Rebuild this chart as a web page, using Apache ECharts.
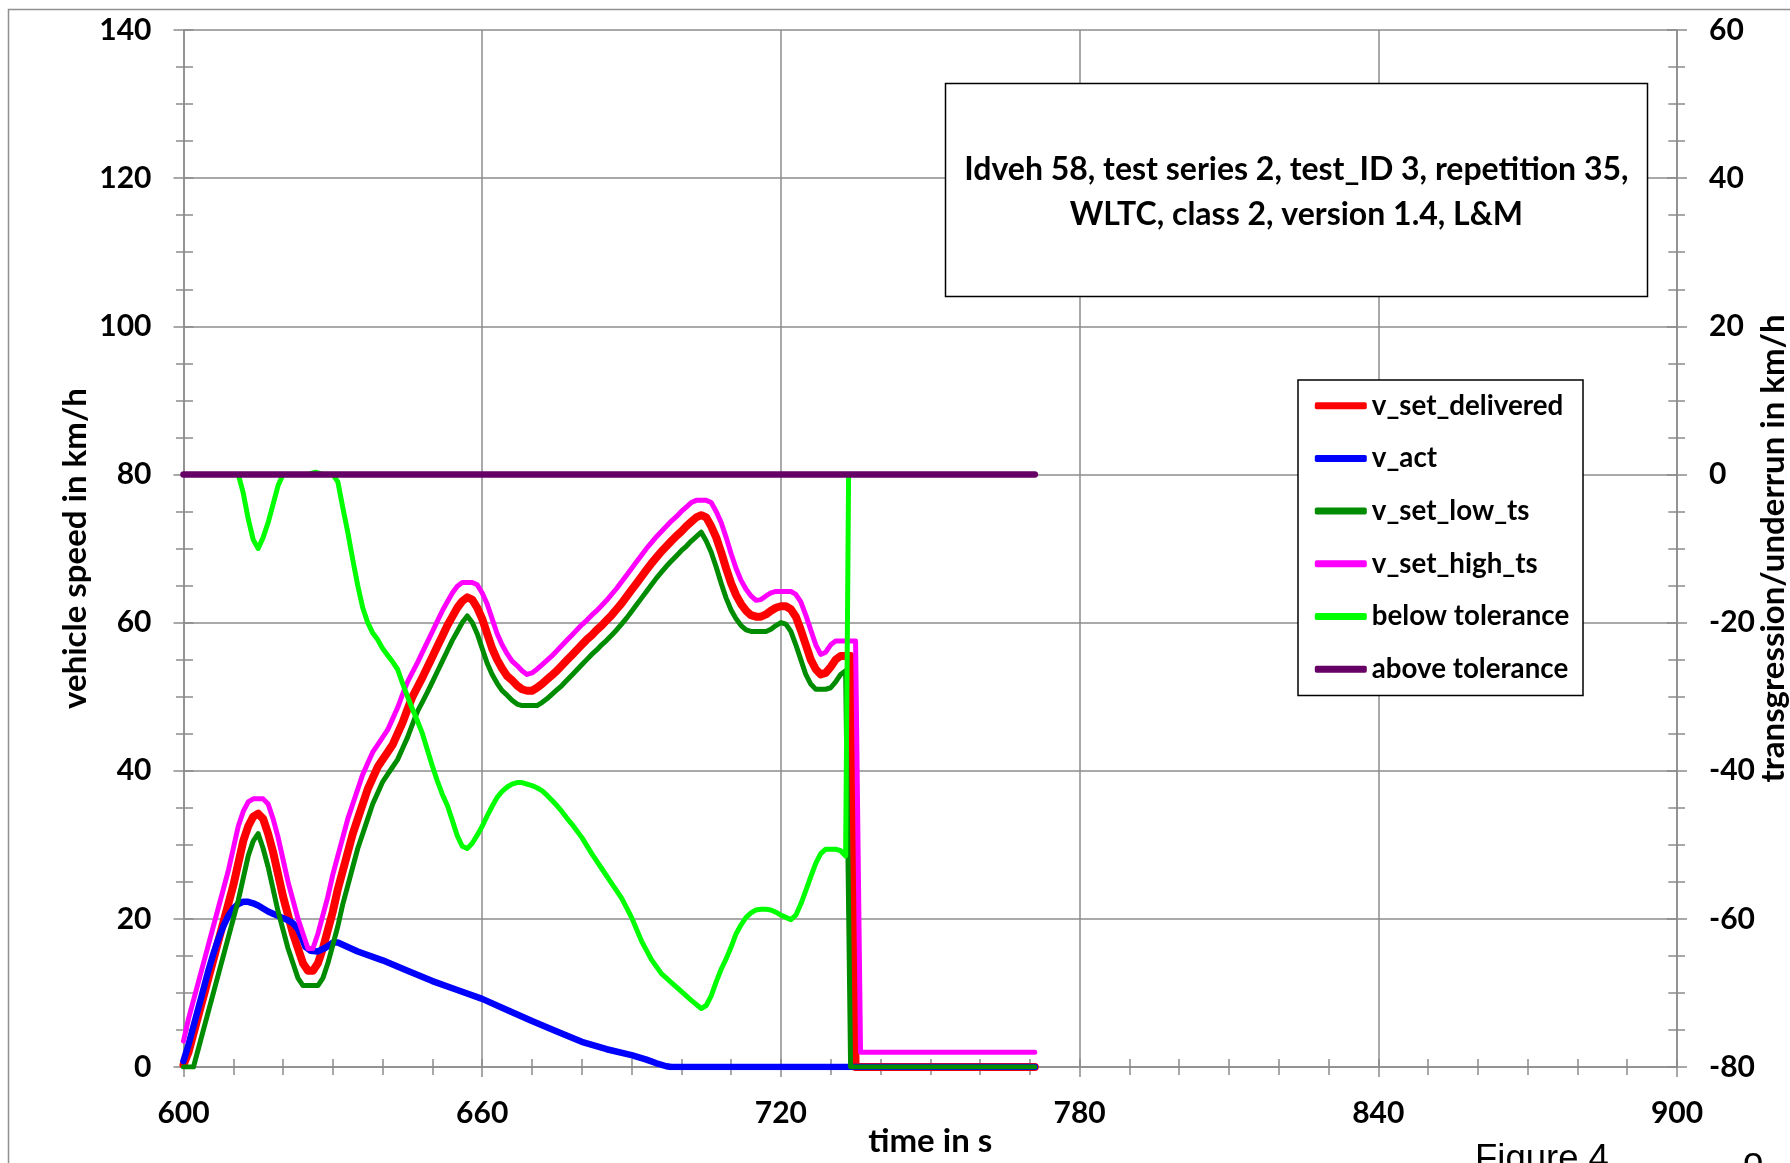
<!DOCTYPE html>
<html><head><meta charset="utf-8">
<script src="https://cdn.jsdelivr.net/npm/echarts@6/dist/echarts.min.js"></script>
<style>html,body{margin:0;padding:0;background:#fff}#c{width:1790px;height:1163px}</style>
</head><body><div id="c"></div><script>
// ---------- data (time in s, value) ----------
const seriesNames = ['v_set_delivered','v_act','v_set_low_ts','v_set_high_ts','below tolerance','above tolerance'];
const titleLines = ['Idveh 58, test series 2, test_ID 3, repetition 35,', 'WLTC, class 2, version 1.4, L&M'];
const xTitle = 'time in s';
const yLeftTitle = 'vehicle speed in km/h';
const yRightTitle = 'transgression/underrun in km/h';

const vSetDelivered = [[600,0.3],[601,2],[602,4.5],[603,7],[604,9.5],[605,12],[606,14.5],[607,17],[608,19.5],[609,22],[610,24.5],[611,27.5],[612,30.5],[613,32.5],[614,33.8],[615,34.2],[616,33.5],[617,31.5],[618,29],[619,26],[620,23],[621,20.5],[622,18],[623,16],[624,14],[625,13],[626,13],[627,14],[628,16],[629,18.5],[630,21],[631,24],[632,26.5],[633,29],[634,31.5],[635,33.5],[636,35.5],[637,37.5],[638,39],[639,40.5],[640,41.5],[641,42.5],[642,43.5],[643,45],[644,46.5],[645,48.3],[646,50],[647,51.3],[648,52.6],[649,54],[650,55.4],[651,56.8],[652,58.2],[653,59.6],[654,60.8],[655,62],[656,62.9],[657,63.4],[658,63.1],[659,62],[660,60.5],[661,58.5],[662,56.5],[663,55],[664,53.8],[665,52.8],[666,52.2],[667,51.5],[668,51],[669,50.8],[670,50.8],[671,51.2],[672,51.7],[673,52.3],[674,52.9],[675,53.5],[676,54.2],[677,54.9],[678,55.6],[679,56.3],[680,57],[681,57.7],[682,58.3],[683,59],[684,59.6],[685,60.3],[686,61],[687,61.8],[688,62.6],[689,63.5],[690,64.4],[691,65.3],[692,66.2],[693,67.1],[694,68],[695,68.8],[696,69.6],[697,70.3],[698,71],[699,71.7],[700,72.3],[701,73],[702,73.6],[703,74.2],[704,74.5],[705,74.2],[706,73],[707,71.5],[708,69.5],[709,67.3],[710,65.3],[711,63.7],[712,62.5],[713,61.6],[714,61],[715,60.8],[716,60.8],[717,61.1],[718,61.6],[719,62],[720,62.2],[721,62.2],[722,61.8],[723,60.8],[724,59],[725,57],[726,55],[727,53.7],[728,53],[729,53.2],[730,54],[731,55],[732,55.5],[733,55.5],[734,55.5],[735,0],[771,0]];

const vAct = [[600,0.8],[601,3],[602,5.5],[603,8],[604,10.5],[605,13],[606,15.3],[607,17.3],[608,19],[609,20.4],[610,21.4],[611,22],[612,22.3],[613,22.3],[614,22.1],[615,21.8],[616,21.4],[617,21],[618,20.7],[619,20.4],[620,20.1],[621,19.8],[622,19.4],[623,18.6],[623.8,17.4],[624.5,16.2],[625.5,15.7],[627,15.6],[628.5,16.1],[630,16.8],[631,16.8],[635,15.6],[640,14.4],[645,13],[650,11.6],[655,10.4],[660,9.2],[665,7.7],[670,6.2],[675,4.8],[680,3.4],[685,2.4],[690,1.6],[693,1],[695,0.5],[697,0.1],[698,0],[771,0]];

const vSetLowTs = [[600,0],[601,0],[602,0],[603,2.5],[604,5],[605,7.5],[606,10],[607,12.5],[608,15],[609,17.5],[610,20],[611,22.5],[612,25.5],[613,28.5],[614,30.5],[615,31.5],[616,29.5],[617,27],[618,24],[619,21],[620,18.5],[621,16],[622,14],[623,12],[624,11],[625,11],[626,11],[627,11],[628,12],[629,14],[630,16.5],[631,19],[632,22],[633,24.5],[634,27],[635,29.5],[636,31.5],[637,33.5],[638,35.5],[639,37],[640,38.5],[641,39.5],[642,40.5],[643,41.5],[644,43],[645,44.5],[646,46.3],[647,48],[648,49.3],[649,50.6],[650,52],[651,53.4],[652,54.8],[653,56.2],[654,57.6],[655,58.8],[656,60],[657,60.9],[658,60],[659,58.5],[660,56.5],[661,54.5],[662,53],[663,51.8],[664,50.8],[665,50.2],[666,49.5],[667,49],[668,48.8],[669,48.8],[670,48.8],[671,48.8],[672,49.2],[673,49.7],[674,50.3],[675,50.9],[676,51.5],[677,52.2],[678,52.9],[679,53.6],[680,54.3],[681,55],[682,55.7],[683,56.3],[684,57],[685,57.6],[686,58.3],[687,59],[688,59.8],[689,60.6],[690,61.5],[691,62.4],[692,63.3],[693,64.2],[694,65.1],[695,66],[696,66.8],[697,67.6],[698,68.3],[699,69],[700,69.7],[701,70.3],[702,71],[703,71.6],[704,72.2],[705,71],[706,69.5],[707,67.5],[708,65.3],[709,63.3],[710,61.7],[711,60.5],[712,59.6],[713,59],[714,58.8],[715,58.8],[716,58.8],[717,58.8],[718,59.1],[719,59.6],[720,60],[721,59.8],[722,58.8],[723,57],[724,55],[725,53],[726,51.7],[727,51],[728,51],[729,51],[730,51.2],[731,52],[732,53],[733,53.5],[734,0],[771,0]];

const vSetHighTs = [[600,3.5],[601,6.5],[602,9],[603,11.5],[604,14],[605,16.5],[606,19],[607,21.5],[608,24],[609,26.5],[610,29.5],[611,32.5],[612,34.5],[613,35.8],[614,36.2],[615,36.2],[616,36.2],[617,35.5],[618,33.5],[619,31],[620,28],[621,25],[622,22.5],[623,20],[624,18],[625,16],[626,16],[627,18],[628,20.5],[629,23],[630,26],[631,28.5],[632,31],[633,33.5],[634,35.5],[635,37.5],[636,39.5],[637,41],[638,42.5],[639,43.5],[640,44.5],[641,45.5],[642,47],[643,48.5],[644,50.3],[645,52],[646,53.3],[647,54.6],[648,56],[649,57.4],[650,58.8],[651,60.2],[652,61.6],[653,62.8],[654,64],[655,64.9],[656,65.4],[657,65.4],[658,65.4],[659,65.1],[660,64],[661,62.5],[662,60.5],[663,58.5],[664,57],[665,55.8],[666,54.8],[667,54.2],[668,53.5],[669,53],[670,53.2],[671,53.7],[672,54.3],[673,54.9],[674,55.5],[675,56.2],[676,56.9],[677,57.6],[678,58.3],[679,59],[680,59.7],[681,60.3],[682,61],[683,61.6],[684,62.3],[685,63],[686,63.8],[687,64.6],[688,65.5],[689,66.4],[690,67.3],[691,68.2],[692,69.1],[693,70],[694,70.8],[695,71.6],[696,72.3],[697,73],[698,73.7],[699,74.3],[700,75],[701,75.6],[702,76.2],[703,76.5],[704,76.5],[705,76.5],[706,76.2],[707,75],[708,73.5],[709,71.5],[710,69.3],[711,67.3],[712,65.7],[713,64.5],[714,63.6],[715,63],[716,63.1],[717,63.6],[718,64],[719,64.2],[720,64.2],[721,64.2],[722,64.2],[723,63.8],[724,62.8],[725,61],[726,59],[727,57],[728,55.7],[729,56],[730,57],[731,57.5],[732,57.5],[733,57.5],[734,57.5],[735,57.5],[736,2],[771,2]];

// right axis (transgression/underrun in km/h)
const belowTolerance = [[600,0],[611,0],[612,-2.5],[613,-6],[614,-8.8],[615,-10],[616,-8.5],[617,-6.5],[618,-4],[619,-1.5],[620,0],[625,0],[626.5,0.3],[628,0],[630,0],[631,-1],[632,-4.5],[633,-7.8],[634,-11.5],[635,-15],[636,-18],[637,-20],[638,-21.4],[639,-22.3],[640,-23.5],[641,-24.4],[642,-25.3],[643,-26.3],[644,-28.2],[645,-30],[646,-31.7],[647,-33.3],[648,-35],[649,-37.2],[650,-39.4],[651,-41.4],[652,-43.2],[653,-44.7],[654,-46.7],[655,-48.8],[656,-50.2],[657,-50.5],[658,-49.8],[659,-48.7],[660,-47.5],[661,-46.1],[662,-44.8],[663,-43.6],[664,-42.8],[665,-42.2],[666,-41.8],[667,-41.6],[668,-41.6],[669,-41.8],[670,-42],[671,-42.3],[672,-42.7],[673,-43.3],[674,-44],[675,-44.7],[676,-45.5],[677,-46.4],[678,-47.2],[680,-49],[682,-51.2],[684,-53.2],[686,-55.2],[688,-57.2],[690,-59.8],[692,-63],[694,-65.5],[696,-67.4],[698,-68.6],[700,-69.8],[702,-71],[704,-72.1],[705,-71.7],[706,-70.4],[707,-68.5],[708,-66.8],[709,-65.4],[710,-63.8],[711,-62],[712,-60.8],[713,-59.8],[714,-59.2],[715,-58.8],[716,-58.7],[717,-58.7],[718,-58.8],[719,-59.1],[720,-59.5],[721,-59.8],[722,-60.1],[723,-59.5],[724,-58],[725,-56.2],[726,-54.3],[727,-52.5],[728,-51.2],[729,-50.6],[730,-50.6],[731,-50.6],[732,-50.8],[733,-51.5],[733.6,0],[771,0]];
const aboveTolerance = [[600,0],[771,0]];

// axis ranges / ticks
const xRange = [600, 900], xStep = 60;
const yLeftRange = [0, 140], yStep = 20;
const yRightRange = [-80, 60];

// ---------- styles ----------
const FONT = 'Lato';
const GRAY = '#8c8c8c';
const gl = {color: GRAY, width: 1.5};
const lbl = {color:'#000', fontFamily:FONT, fontWeight:'bold', fontSize:30};
const nameStyle = {color:'#000', fontFamily:FONT, fontWeight:'bold', fontSize:33};

function baseAxis(range, step, extra){
  return Object.assign({type:'value', min:range[0], max:range[1], interval:step,
    axisLine:{show:true, onZero:false, lineStyle:gl},
    splitLine:{show:false}, minorSplitLine:{show:false}, nameMoveOverlap:false}, extra);
}

const option = {
  animation:false,
  backgroundColor:'#fff',
  grid:{left:183.5, right:113, top:30, bottom:96, containLabel:false, outerBoundsMode:'none'},
  xAxis:[
    baseAxis(xRange, xStep, {position:'bottom',
      axisTick:{show:true, length:10, lineStyle:gl},
      minorTick:{show:true, splitNumber:6, length:8, lineStyle:gl},
      splitLine:{show:true, lineStyle:gl},
      axisLabel:Object.assign({margin:31}, lbl),
      name:xTitle, nameLocation:'middle', nameGap:57.5, nameTextStyle:nameStyle}),
    baseAxis(xRange, xStep, {position:'bottom', axisLine:{show:false},
      axisTick:{show:true, inside:true, length:8, lineStyle:gl},
      minorTick:{show:true, splitNumber:6, length:8, lineStyle:gl},
      axisLabel:{show:false}})
  ],
  yAxis:[
    baseAxis(yLeftRange, yStep, {position:'left',
      axisTick:{show:true, length:10, lineStyle:gl},
      minorTick:{show:true, splitNumber:4, length:7.5, lineStyle:gl},
      splitLine:{show:true, lineStyle:gl},
      axisLabel:Object.assign({margin:32}, lbl),
      name:yLeftTitle, nameLocation:'middle', nameRotate:90, nameGap:92, nameTextStyle:nameStyle}),
    baseAxis(yRightRange, yStep, {position:'right',
      axisTick:{show:true, length:10, lineStyle:gl},
      minorTick:{show:true, splitNumber:4, length:8, lineStyle:gl},
      axisLabel:Object.assign({margin:32}, lbl),
      name:yRightTitle, nameLocation:'middle', nameRotate:90, nameGap:79.5, nameTextStyle:nameStyle}),
    baseAxis(yLeftRange, yStep, {position:'left', axisLine:{show:false},
      axisTick:{show:true, inside:true, length:10, lineStyle:gl},
      minorTick:{show:true, splitNumber:4, length:9.5, lineStyle:gl},
      axisLabel:{show:false}}),
    baseAxis(yRightRange, yStep, {position:'right', axisLine:{show:false},
      axisTick:{show:true, inside:true, length:10, lineStyle:gl},
      minorTick:{show:true, splitNumber:4, length:8.7, lineStyle:gl},
      axisLabel:{show:false}})
  ],
  legend:{
    orient:'vertical', left:1314.8, top:390.7, padding:0, z:10,
    itemWidth:52, itemHeight:7, itemGap:22.7, icon:'roundRect',
    textStyle:{color:'#000', fontFamily:FONT, fontWeight:'bold', fontSize:27.7, lineHeight:30},
    data:seriesNames
  },
  graphic:[
    {type:'rect', silent:true, z:-1, shape:{x:8.5, y:9.5, width:1900, height:1300}, style:{fill:'none', stroke:'#909090', lineWidth:1.5}},
    {type:'rect', silent:true, z:3, shape:{x:1298, y:380, width:285, height:315.5}, style:{fill:'#fff', stroke:'#000', lineWidth:1.5}},
    {type:'rect', silent:true, z:50, shape:{x:945.5, y:83.5, width:702, height:213}, style:{fill:'#fff', stroke:'#000', lineWidth:1.5}},
    {type:'text', silent:true, z:51, x:1296.4, y:170, style:{text:titleLines[0], fill:'#000', font:'bold 32px Lato', textAlign:'center', textVerticalAlign:'middle', align:'center', verticalAlign:'middle'}},
    {type:'text', silent:true, z:51, x:1296.4, y:214.7, style:{text:titleLines[1], fill:'#000', font:'bold 32px Lato', textAlign:'center', textVerticalAlign:'middle', align:'center', verticalAlign:'middle'}},
    {type:'text', silent:true, z:51, x:1475, y:1159.7, style:{text:'Figure 4', fill:'#000', font:'36.5px "Liberation Sans"', textAlign:'left', textVerticalAlign:'middle', align:'left', verticalAlign:'middle'}},
    {type:'text', silent:true, z:51, x:1743, y:1162.7, style:{text:'o', fill:'#000', font:'36.5px "Liberation Sans"', textAlign:'left', textVerticalAlign:'middle', align:'left', verticalAlign:'middle'}}
  ],
  series:[
    {name:seriesNames[0], type:'line', xAxisIndex:0, yAxisIndex:0, data:vSetDelivered, showSymbol:false, symbol:'none', color:'#ff0000', lineStyle:{color:'#ff0000', width:8, cap:'round', join:'round'}},
    {name:seriesNames[1], type:'line', xAxisIndex:0, yAxisIndex:0, data:vAct, showSymbol:false, symbol:'none', color:'#0000ff', lineStyle:{color:'#0000ff', width:6.5, cap:'round', join:'round'}},
    {name:seriesNames[2], type:'line', xAxisIndex:0, yAxisIndex:0, data:vSetLowTs, showSymbol:false, symbol:'none', color:'#008c00', lineStyle:{color:'#008c00', width:5, cap:'round', join:'round'}},
    {name:seriesNames[3], type:'line', xAxisIndex:0, yAxisIndex:0, data:vSetHighTs, showSymbol:false, symbol:'none', color:'#ff00ff', lineStyle:{color:'#ff00ff', width:5, cap:'round', join:'round'}},
    {name:seriesNames[4], type:'line', xAxisIndex:0, yAxisIndex:1, data:belowTolerance, showSymbol:false, symbol:'none', color:'#00ff00', lineStyle:{color:'#00ff00', width:5, cap:'round', join:'round'}},
    {name:seriesNames[5], type:'line', xAxisIndex:0, yAxisIndex:1, data:aboveTolerance, showSymbol:false, symbol:'none', color:'#660066', lineStyle:{color:'#660066', width:6.5, cap:'round', join:'round'}}
  ]
};
const chart = echarts.init(document.getElementById('c'), null, {renderer:'canvas', width:1790, height:1163});
chart.setOption(option);
</script></body></html>
